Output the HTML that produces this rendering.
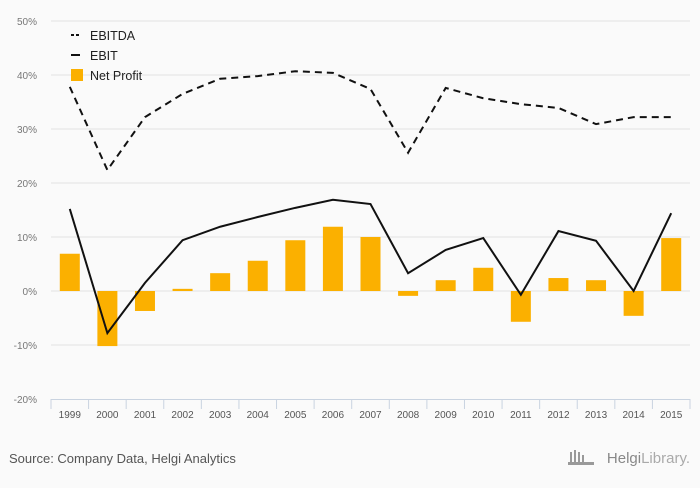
<!DOCTYPE html>
<html><head><meta charset="utf-8"><style>
body{margin:0;background:#fafafa;font-family:"Liberation Sans",sans-serif;}
svg text{font-family:"Liberation Sans",sans-serif;}
</style></head><body>
<svg width="700" height="483" xmlns="http://www.w3.org/2000/svg" id="c">
<rect width="700" height="483" fill="#fafafa"/>
<g id="grid"></g><g id="bars"></g><g id="lines"></g><g id="axis"></g>
<g>
<line x1="71" y1="35" x2="80" y2="35" stroke="#111" stroke-width="2" stroke-dasharray="3,2"/>
<text x="90" y="40" font-size="12.5" fill="#222">EBITDA</text>
<line x1="71" y1="55" x2="80" y2="55" stroke="#111" stroke-width="2"/>
<text x="90" y="60" font-size="12.5" fill="#222">EBIT</text>
<rect x="71" y="69" width="12" height="12" fill="#fbb000"/>
<text x="90" y="80" font-size="12.5" fill="#222">Net Profit</text>
</g>
<text x="9" y="463" font-size="13" fill="#555">Source: Company Data, Helgi Analytics</text>
<text x="690" y="463" font-size="15" fill="#888" text-anchor="end" font-family="Liberation Serif">Helgi<tspan fill="#aaa">Library.</tspan></text>
<g fill="#999"><rect x="570" y="452" width="2" height="12"/><rect x="574" y="450" width="2" height="14"/><rect x="578" y="452" width="2" height="12"/><rect x="582" y="455" width="2" height="9"/><rect x="568" y="462" width="26" height="3"/></g>
</svg>
<script>
const categories=["1999","2000","2001","2002","2003","2004","2005","2006","2007","2008","2009","2010","2011","2012","2013","2014","2015"];
const ebitda=[37.8,22.4,32.2,36.5,39.3,39.8,40.7,40.4,37.4,25.6,37.6,35.7,34.6,33.9,30.9,32.2,32.2];
const ebit=[15.2,-7.8,1.5,9.4,11.9,13.7,15.4,16.9,16.1,3.3,7.6,9.8,-0.7,11.1,9.3,0,14.4];
const netProfit=[6.9,-10.2,-3.7,0.4,3.3,5.6,9.4,11.9,10,-0.9,2,4.3,-5.7,2.4,2,-4.6,9.8];
const yTicks=[50,40,30,20,10,0,-10,-20];
const NS="http://www.w3.org/2000/svg";
const x0=51,x1=690,bw=(x1-x0)/categories.length;
function y(v){return 291-v*5.4;}
function xc(i){return x0+bw*(i+0.5);}
function mk(t,a,p){const e=document.createElementNS(NS,t);for(const k in a)e.setAttribute(k,a[k]);document.getElementById(p).appendChild(e);return e;}
yTicks.forEach(t=>{
 if(t>-20){const l=mk("line",{x1:x0,x2:x1,y1:y(t),y2:y(t),stroke:"#e2e2e2","stroke-width":1},"grid");
 
 }
 const tx=mk("text",{x:37,y:y(t)+4,"text-anchor":"end","font-size":"10",fill:"#777"},"grid");
 tx.textContent=t+"%";
 
 
});
const ax=mk("line",{x1:x0,x2:x1,y1:399.5,y2:399.5,stroke:"#c9d3e0","stroke-width":1},"axis");


categories.forEach((c,i)=>{
 const tk=mk("line",{x1:x0+bw*i,x2:x0+bw*i,y1:399,y2:409,stroke:"#c9d3e0"},"axis");
 
 
 const tx=mk("text",{x:xc(i),y:418,"text-anchor":"middle","font-size":"10",fill:"#555"},"axis");
 tx.textContent=c;
 
 
 const v=netProfit[i];
 const b=mk("rect",{x:xc(i)-10,y:Math.min(y(v),y(0)),width:20,height:Math.abs(y(v)-y(0)),fill:"#fbb000"},"bars");
 
 
});
const tk=mk("line",{x1:x1,x2:x1,y1:399,y2:409,stroke:"#c9d3e0"},"axis");


function path(arr){return arr.map((v,i)=>(i?"L":"M")+xc(i)+","+y(v)).join(" ");}
const l1=mk("path",{d:path(ebitda),fill:"none",stroke:"#111","stroke-width":2,"stroke-dasharray":"7,5"},"lines");


const l2=mk("path",{d:path(ebit),fill:"none",stroke:"#111","stroke-width":2},"lines");


</script>
</body></html>
